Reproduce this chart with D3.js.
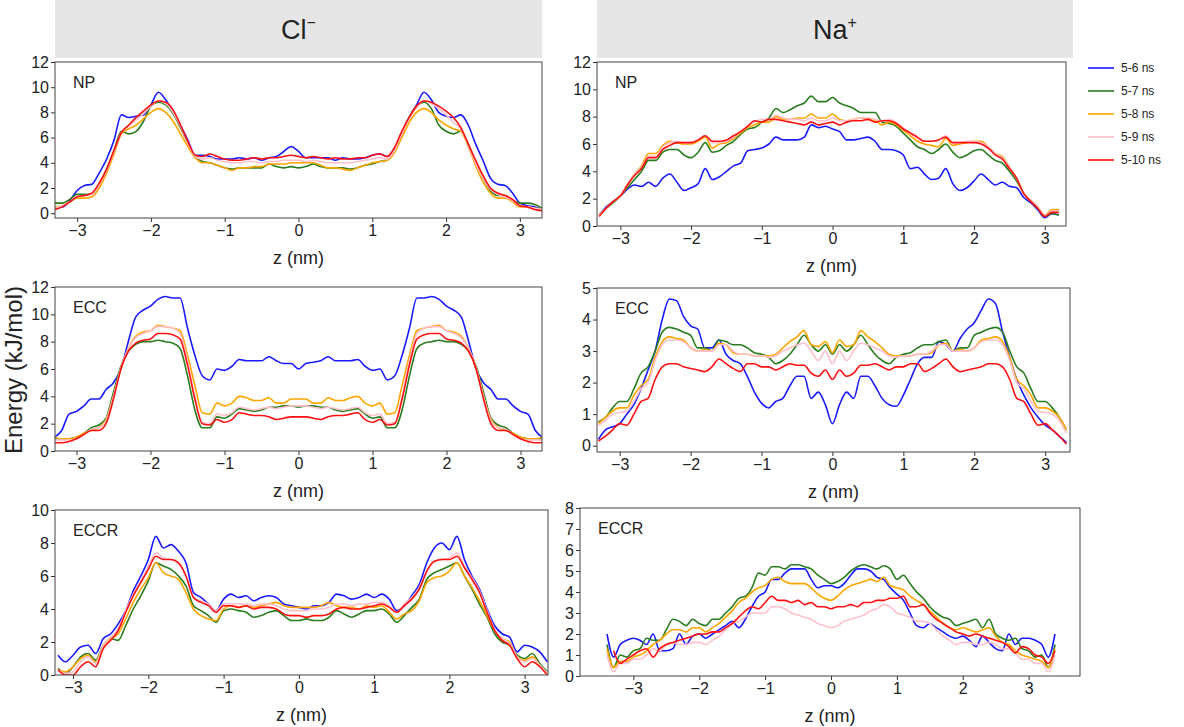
<!DOCTYPE html>
<html>
<head>
<script src="https://d3js.org/d3.v7.min.js"></script>
<style>
  body { margin: 0; background: #fff; font-family: "Liberation Sans", Arial, sans-serif; }
  .tick text { font-size: 16px; fill: #222; font-family: "Liberation Sans", Arial, sans-serif; }
  .domain { display: none; }
  .tick line { stroke: #333; }
</style>
</head>
<body>
<svg id="chart" width="1184" height="727"></svg>
<script>
// series labels and colours
const seriesNames = ['5-6 ns', '5-7 ns', '5-8 ns', '5-9 ns', '5-10 ns'];
const seriesColors = ['#1a1aff', '#2a7d1e', '#ffa500', '#ffc0cb', '#ff1010'];

// z grids (nm), sampled every 0.1 nm
const zA = d3.range(-33, 34).map(i => i / 10);   // -3.3 .. 3.3
const zB = d3.range(-33, 33).map(i => i / 10);   // -3.3 .. 3.2
const zC = d3.range(-32, 34).map(i => i / 10);   // -3.2 .. 3.3
const zD = d3.range(-34, 35).map(i => i / 10);   // -3.4 .. 3.4

// Cl- NP
const clNP_56 = [0.5,0.5,1.0,1.8,2.2,2.3,3.2,4.3,5.8,7.8, 7.6,7.7,7.8,8.6,9.6,9.0,8.0,7.0,5.8,4.6, 4.6,4.5,4.3,4.3,4.3,4.4,4.3,4.4,4.2,4.4, 4.5,4.9,5.3,4.9,4.4,4.4,4.4,4.4,4.2,4.4, 4.3,4.3,4.4,4.6,4.7,4.5,5.0,6.3,7.6,8.6, 9.6,9.0,8.0,7.7,7.6,7.8,7.0,5.5,4.2,2.8, 2.3,2.2,1.6,0.8,0.6,0.5,0.3];
const clNP_57 = [0.8,0.8,1.1,1.5,1.5,1.5,2.3,3.5,5.0,6.5, 6.3,6.5,7.3,8.5,8.8,8.6,7.9,6.8,5.6,4.5, 4.1,4.0,3.8,3.6,3.5,3.6,3.6,3.6,3.6,3.9, 3.7,3.6,3.7,3.6,3.7,3.9,3.7,3.6,3.6,3.6, 3.5,3.6,3.8,3.9,4.1,4.2,5.0,6.3,7.6,8.5, 8.8,8.3,7.0,6.5,6.3,6.5,5.5,4.0,2.8,1.8, 1.4,1.4,1.0,0.8,0.8,0.7,0.4];
const clNP_58 = [0.5,0.6,0.9,1.2,1.2,1.3,2.0,3.2,4.7,6.3, 6.7,7.0,7.5,8.0,8.3,8.0,7.3,6.3,5.3,4.4, 4.0,4.0,3.8,3.6,3.4,3.6,3.6,3.7,3.7,3.9, 3.9,3.9,4.0,4.0,4.0,4.0,3.8,3.6,3.6,3.5, 3.4,3.6,3.8,4.0,4.1,4.2,4.8,6.0,7.2,8.0, 8.3,8.0,7.4,7.0,6.7,6.5,5.3,3.8,2.5,1.6, 1.2,1.2,0.9,0.5,0.5,0.4,0.3];
const clNP_59 = [0.4,0.6,0.9,1.3,1.4,1.5,2.3,3.4,4.9,6.4, 6.9,7.4,7.9,8.5,8.9,8.7,8.0,6.9,5.6,4.5, 4.3,4.4,4.2,4.1,4.0,4.0,4.1,4.1,4.0,4.1, 4.1,4.2,4.2,4.2,4.1,4.2,4.1,4.0,4.0,4.0, 4.0,4.1,4.2,4.3,4.4,4.3,5.0,6.3,7.5,8.4, 8.9,8.7,8.3,7.8,7.2,6.7,5.4,4.0,2.8,1.9, 1.5,1.3,1.0,0.6,0.5,0.4,0.3];
const clNP_510 = [0.3,0.5,0.9,1.3,1.4,1.6,2.4,3.5,5.0,6.4, 7.0,7.6,8.1,8.6,8.9,8.8,8.2,7.0,5.7,4.6, 4.5,4.7,4.5,4.3,4.2,4.2,4.3,4.4,4.3,4.4, 4.4,4.5,4.6,4.5,4.4,4.5,4.4,4.3,4.4,4.3, 4.3,4.4,4.4,4.6,4.7,4.5,5.2,6.5,7.6,8.5, 8.9,8.8,8.5,8.1,7.6,6.8,5.5,4.2,3.0,2.0, 1.6,1.4,1.1,0.6,0.5,0.3,0.2];

// Na+ NP
const naNP_56 = [0.8,1.4,1.8,2.2,2.7,3.0,2.9,3.2,2.9,3.5, 3.8,3.2,2.6,2.8,3.1,4.2,3.4,3.6,4.0,4.4, 4.6,5.5,5.6,5.7,6.0,6.5,6.3,6.3,6.3,6.5, 7.4,7.2,7.3,7.1,6.9,6.3,6.3,6.4,6.5,6.2, 5.6,5.6,5.5,5.2,4.2,4.3,3.8,3.4,3.5,4.2, 3.1,2.6,2.8,3.3,3.8,3.4,3.0,3.2,2.9,2.8, 2.1,1.7,1.2,0.6,0.9,0.8];
const naNP_57 = [0.8,1.3,1.7,2.2,2.8,3.4,4.0,4.8,4.8,5.4, 5.6,5.6,5.2,5.0,5.4,6.1,5.4,5.5,5.9,6.2, 6.7,7.1,7.2,7.6,7.9,8.6,8.3,8.5,8.8,9.0, 9.5,9.1,9.1,9.4,9.0,8.8,8.6,8.3,8.3,8.3, 7.6,7.5,7.3,6.8,6.3,5.8,5.6,5.3,5.6,6.0, 5.4,5.0,5.2,5.5,5.6,5.2,4.8,4.6,4.0,3.3, 2.4,1.8,1.3,0.7,0.9,0.8];
const naNP_58 = [0.8,1.3,1.8,2.2,3.0,3.8,4.4,5.3,5.3,5.9, 6.2,6.1,6.0,6.0,6.2,6.5,5.7,6.0,6.1,6.4, 6.8,7.2,7.4,7.6,7.6,8.0,7.8,7.8,7.9,7.9, 8.2,7.9,7.9,8.2,7.8,7.7,7.8,7.9,7.8,7.7, 7.4,7.6,7.4,7.0,6.6,6.2,6.0,5.9,5.8,6.4, 5.9,6.0,6.1,6.2,6.2,5.8,5.3,5.1,4.3,3.5, 2.4,1.9,1.4,0.8,1.2,1.2];
const naNP_59 = [0.8,1.3,1.8,2.2,3.0,3.8,4.3,5.1,5.1,5.8, 6.1,6.2,6.1,6.1,6.3,6.6,6.1,6.1,6.2,6.5, 6.9,7.3,7.6,7.8,7.8,8.1,7.9,7.8,7.8,7.7, 7.9,7.7,7.7,7.9,7.7,7.7,7.8,7.9,7.9,7.8, 7.7,7.8,7.6,7.2,6.8,6.4,6.2,6.2,6.3,6.6, 6.1,6.1,6.2,6.2,6.1,5.8,5.3,5.0,4.3,3.5, 2.4,1.9,1.4,0.8,1.1,1.1];
const naNP_510 = [0.7,1.3,1.8,2.2,3.0,3.7,4.2,5.0,5.0,5.6, 5.9,6.1,6.1,6.1,6.3,6.6,6.2,6.2,6.3,6.6, 6.9,7.3,7.7,7.6,7.8,7.8,7.7,7.6,7.5,7.4, 7.6,7.4,7.5,7.6,7.4,7.6,7.7,7.7,7.8,7.6, 7.7,7.7,7.5,7.1,6.8,6.5,6.2,6.2,6.3,6.5, 6.1,6.1,6.1,6.1,6.0,5.7,5.2,4.9,4.2,3.5, 2.4,1.8,1.3,0.7,1.0,1.0];

// Cl- ECC
const clECC_56 = [1.0,1.5,2.7,2.9,3.3,3.8,3.8,4.5,5.0,6.0, 8.0,9.8,10.3,10.6,11.1,11.3,11.2,11.2,9.0,7.0, 5.5,5.2,6.0,5.9,6.2,6.7,6.6,6.6,6.6,6.9, 6.6,6.4,6.4,6.0,6.4,6.5,6.6,6.9,6.6,6.6, 6.6,6.7,6.2,5.9,6.0,5.2,5.5,7.0,9.0,11.2, 11.2,11.3,11.1,10.6,10.3,9.8,8.0,6.0,5.0,4.5, 3.8,3.8,3.3,2.9,2.7,1.5,1.0];
const clECC_57 = [0.9,0.9,0.9,1.0,1.3,1.7,1.9,2.4,4.3,6.2, 7.3,7.8,8.0,8.0,8.1,8.0,7.9,7.5,5.5,3.0, 1.7,1.7,2.5,2.4,2.7,3.1,3.0,2.9,3.0,3.2, 3.2,3.3,3.3,3.2,3.3,3.3,3.2,3.2,3.0,2.9, 3.0,3.1,2.7,2.4,2.5,1.7,1.7,3.0,5.5,7.5, 7.9,8.0,8.1,8.0,8.0,7.8,7.3,6.2,4.3,2.4, 1.9,1.7,1.3,1.0,0.9,0.9,0.9];
const clECC_58 = [1.0,0.9,0.9,1.0,1.3,1.5,1.7,2.3,4.0,6.0, 7.5,8.4,8.7,8.8,9.2,9.1,9.0,8.8,7.0,4.8, 2.8,2.7,3.5,3.3,3.5,4.0,3.9,3.7,3.7,3.9, 3.5,3.5,3.8,3.8,3.8,3.5,3.5,3.9,3.7,3.7, 3.9,4.0,3.5,3.3,3.5,2.7,2.8,4.8,7.0,8.8, 9.0,9.1,9.2,8.8,8.7,8.4,7.5,6.0,4.0,2.3, 1.7,1.5,1.3,1.0,0.9,0.9,1.0];
const clECC_59 = [0.8,0.8,0.8,0.9,1.2,1.6,1.7,2.2,4.0,6.1, 7.5,8.3,8.6,8.8,9.1,9.1,9.0,8.6,6.6,4.0, 2.1,2.0,2.7,2.6,2.8,3.2,3.1,3.0,3.1,3.2, 3.1,3.2,3.3,3.3,3.3,3.2,3.1,3.2,3.1,3.0, 3.1,3.2,2.8,2.6,2.7,2.0,2.1,4.0,6.6,8.6, 9.0,9.1,9.1,8.8,8.6,8.3,7.5,6.1,4.0,2.2, 1.7,1.6,1.2,0.9,0.8,0.8,0.8];
const clECC_510 = [0.6,0.6,0.7,0.9,1.2,1.5,1.5,2.0,3.8,6.0, 7.3,7.9,8.1,8.2,8.6,8.6,8.5,8.2,6.3,3.8, 2.0,1.9,2.3,2.1,2.3,2.8,2.7,2.6,2.6,2.5, 2.3,2.4,2.5,2.5,2.5,2.4,2.3,2.5,2.6,2.6, 2.7,2.8,2.3,2.1,2.3,1.9,2.0,3.8,6.3,8.2, 8.5,8.6,8.6,8.2,8.1,7.9,7.3,6.0,3.8,2.0, 1.5,1.5,1.2,0.9,0.7,0.6,0.6];

// Na+ ECC
const naECC_56 = [0.2,0.5,0.6,0.7,1.0,1.3,1.8,2.4,3.0,4.0, 4.65,4.6,4.1,3.8,3.7,3.1,3.1,3.35,2.9,2.7, 2.6,2.2,1.7,1.35,1.2,1.4,1.5,1.9,2.2,2.2, 1.5,1.7,1.3,0.7,1.3,1.7,1.5,2.2,2.2,1.9, 1.5,1.3,1.25,1.6,2.1,2.6,2.8,2.8,3.3,3.2, 3.0,3.4,3.7,3.9,4.3,4.65,4.5,3.6,2.8,2.1, 1.6,1.2,0.9,0.65,0.5,0.3,0.1];
const naECC_57 = [0.75,0.9,1.2,1.4,1.4,1.8,2.3,2.5,3.0,3.6, 3.75,3.7,3.6,3.5,3.1,3.1,3.0,3.35,3.3,3.2, 3.2,3.1,2.95,2.9,2.8,2.6,2.7,2.9,3.2,3.5, 3.2,3.0,3.2,2.9,3.2,3.0,3.2,3.5,3.2,2.9, 2.7,2.6,2.8,2.9,2.95,3.1,3.2,3.2,3.3,3.35, 3.0,3.1,3.1,3.5,3.6,3.7,3.75,3.6,3.0,2.5, 2.3,1.8,1.4,1.4,1.2,0.9,0.5];
const naECC_58 = [0.7,0.9,1.1,1.2,1.2,1.6,1.9,2.1,2.8,3.3, 3.45,3.4,3.35,3.1,3.0,3.05,3.0,3.25,3.2,2.95, 2.9,2.9,2.85,2.85,2.85,2.9,3.1,3.3,3.45,3.65, 3.2,3.15,3.3,2.95,3.35,3.15,3.2,3.65,3.45,3.3, 3.1,2.9,2.85,2.85,2.85,2.9,2.9,2.95,3.2,3.25, 3.0,3.05,3.0,3.1,3.35,3.4,3.45,3.3,2.8,2.1, 1.9,1.6,1.2,1.2,1.1,0.9,0.5];
const naECC_59 = [0.65,0.8,1.0,1.05,1.1,1.4,1.8,2.0,2.7,3.2, 3.35,3.35,3.3,3.1,3.0,3.0,3.0,3.2,3.2,3.0, 2.9,2.9,2.85,2.85,2.8,2.85,3.0,3.1,3.2,3.25, 3.0,2.7,3.0,2.6,3.0,2.7,3.0,3.25,3.2,3.1, 3.0,2.85,2.8,2.85,2.85,2.9,2.9,3.0,3.2,3.2, 3.0,3.0,3.0,3.1,3.3,3.35,3.35,3.2,2.7,2.0, 1.8,1.4,1.1,1.05,1.0,0.8,0.4];
const naECC_510 = [0.15,0.3,0.5,0.7,0.65,1.0,1.4,1.5,2.1,2.5, 2.6,2.6,2.5,2.45,2.4,2.35,2.5,2.75,2.6,2.45, 2.35,2.6,2.6,2.5,2.5,2.4,2.5,2.6,2.55,2.55, 2.3,2.2,2.4,2.1,2.4,2.2,2.3,2.55,2.55,2.6, 2.5,2.4,2.5,2.5,2.6,2.6,2.35,2.45,2.6,2.75, 2.5,2.35,2.4,2.45,2.5,2.6,2.6,2.5,2.1,1.5, 1.4,1.0,0.65,0.7,0.5,0.3,0.05];

// Cl- ECCR
const clECCR_56 = [1.2,0.8,1.2,1.7,1.8,1.3,2.2,2.5,3.1,3.9, 5.1,6.0,7.0,8.4,7.7,7.9,7.5,6.8,5.0,4.7, 4.3,3.9,4.6,4.9,4.7,4.8,4.5,4.7,4.8,4.7, 4.3,4.2,4.1,4.0,4.2,4.2,4.4,4.9,4.8,4.6, 4.7,4.9,4.7,4.9,4.6,3.9,4.2,4.8,5.5,6.8, 7.7,8.0,7.6,8.4,7.0,6.0,5.2,4.0,3.0,2.5, 2.3,1.4,1.8,1.7,1.4,0.8];
const clECCR_57 = [0.4,0.1,0.5,1.1,1.3,0.9,1.8,2.2,2.1,3.0, 4.0,4.8,5.7,6.8,6.6,6.4,6.0,5.4,4.2,3.9, 3.6,3.2,3.9,4.0,3.9,3.8,3.5,3.6,3.8,3.9, 3.6,3.3,3.3,3.4,3.3,3.3,3.5,3.9,3.7,3.5, 3.7,3.9,3.9,4.0,3.7,3.2,3.6,4.1,4.6,5.8, 6.2,6.4,6.6,6.8,6.0,5.2,4.3,3.5,2.5,2.0, 1.8,1.2,1.0,1.3,0.7,0.2];
const clECCR_58 = [0.3,0.2,0.5,1.0,1.2,0.8,1.8,2.2,2.5,3.4, 4.4,5.2,5.9,6.8,6.2,6.0,5.8,5.0,4.0,3.6, 3.4,3.3,4.0,4.2,4.1,4.2,4.1,4.2,4.3,4.4, 4.2,4.1,4.1,4.1,4.1,4.2,4.4,4.2,4.1,4.1, 4.0,4.2,4.1,4.2,3.8,3.4,3.7,3.9,4.5,5.6, 5.9,6.0,6.3,6.8,6.0,5.3,4.5,3.6,2.7,2.2, 2.0,1.1,0.9,1.1,0.6,0.1];
const clECCR_59 = [0.3,0.1,0.2,0.8,1.1,0.7,1.8,2.3,2.8,3.9, 4.9,5.7,6.6,7.4,7.1,7.0,6.8,6.0,4.7,4.5, 4.3,3.9,4.3,4.3,4.3,4.3,4.2,4.3,4.3,4.2, 4.0,3.9,3.9,3.9,4.0,4.0,4.1,4.3,4.3,4.2, 4.3,4.3,4.4,4.4,4.2,3.8,4.3,4.7,5.3,6.3, 6.9,7.0,7.1,7.4,6.6,5.9,5.1,3.9,2.8,2.2, 1.9,1.1,0.8,1.0,0.6,0.1];
const clECCR_510 = [0.3,0.0,0.0,0.5,0.8,0.5,1.6,2.1,2.7,3.8, 4.8,5.6,6.4,7.2,7.0,7.0,6.8,6.0,4.7,4.4, 4.2,3.8,4.2,4.2,4.1,4.2,4.0,4.1,4.1,4.0, 3.7,3.6,3.6,3.5,3.6,3.6,3.7,4.0,4.1,4.0, 4.0,4.1,4.2,4.3,4.1,3.8,4.2,4.6,5.2,6.3, 6.9,7.0,7.0,7.2,6.5,5.8,5.0,3.8,2.7,2.1, 1.8,1.0,0.5,0.8,0.5,0.0];

// Na+ ECCR
const naECCR_56 = [2.0,0.9,1.5,1.7,1.8,1.7,1.5,2.0,1.2,1.2, 1.3,2.0,1.5,1.9,2.0,1.8,2.0,2.2,2.4,2.6, 2.3,2.7,3.3,3.8,4.0,4.6,4.6,4.9,5.1,5.1, 5.1,4.6,4.2,4.3,4.3,4.2,4.4,4.8,5.1,5.1, 5.0,4.7,4.6,4.2,3.9,3.6,3.0,2.4,2.3,2.5, 2.3,2.1,1.9,1.8,1.9,1.7,1.4,1.9,1.6,1.3, 1.2,2.0,1.5,1.8,1.8,1.7,1.5,0.9,2.0];
const naECCR_57 = [1.5,0.4,1.0,0.9,1.2,1.3,1.8,1.7,1.7,2.2, 2.7,2.6,2.4,2.7,2.5,2.4,2.7,2.7,3.0,3.3, 3.7,3.8,4.2,4.9,4.8,5.2,5.2,5.1,5.3,5.3, 5.2,5.1,4.8,4.6,4.4,4.5,4.7,5.0,5.2,5.3, 5.2,5.1,5.25,5.1,4.6,4.8,4.4,4.0,3.7,3.3, 3.0,2.8,2.7,2.4,2.5,2.6,2.7,2.3,2.7,2.0, 1.8,1.7,1.8,1.3,1.2,0.9,1.0,0.4,1.5];
const naECCR_58 = [1.3,0.4,0.7,0.7,0.9,1.0,1.2,1.5,1.7,2.0, 2.2,2.2,2.1,2.3,2.3,2.1,2.3,2.5,2.8,3.1, 3.5,3.7,4.0,4.2,4.3,4.6,4.7,4.5,4.4,4.4, 4.4,4.2,3.9,3.7,3.6,3.8,4.1,4.3,4.4,4.5, 4.6,4.5,4.7,4.3,4.2,4.1,3.8,3.6,3.4,3.1, 2.8,2.5,2.3,2.2,2.3,2.2,2.1,2.2,2.3,1.9, 1.6,1.5,1.2,1.0,0.9,0.8,0.7,0.4,1.3];
const naECCR_59 = [1.0,0.2,0.6,0.6,0.8,0.8,1.0,1.3,1.2,1.5, 1.6,1.5,1.5,1.6,1.6,1.5,1.7,1.9,2.2,2.5, 2.6,2.8,3.0,3.0,3.0,3.3,3.3,3.2,3.0,2.9, 2.8,2.7,2.5,2.4,2.3,2.4,2.6,2.7,2.8,2.9, 3.1,3.2,3.4,3.3,3.0,2.9,2.8,2.6,2.6,2.5, 2.2,1.9,1.7,1.5,1.6,1.6,1.5,1.5,1.6,1.5, 1.3,1.3,1.1,0.8,0.8,0.6,0.6,0.2,1.0];
const naECCR_510 = [null,1.2,0.6,0.8,1.0,1.2,1.3,0.9,1.3,1.5, 1.6,1.7,1.8,1.9,2.0,2.0,2.1,2.1,2.3,2.5, 2.8,3.1,3.3,3.2,3.5,3.8,3.6,3.6,3.5,3.6, 3.4,3.5,3.3,3.3,3.2,3.3,3.3,3.4,3.3,3.5, 3.5,3.6,3.6,3.7,3.7,3.8,3.3,3.3,3.4,3.0, 2.7,2.5,2.3,2.1,2.0,1.9,2.0,1.9,1.8,1.7, 1.6,1.4,1.1,1.4,1.3,1.0,0.9,0.6,1.2];

const xTicks = [-3, -2, -1, 0, 1, 2, 3];

const panels = [
  { label: 'NP',   z: zA, left: 55,  right: 542,  top: 62,  bottom: 218, xDom: [-3.3, 3.3],  yDom: [-0.38, 12], yTicks: [0,2,4,6,8,10,12], series: [clNP_56, clNP_57, clNP_58, clNP_59, clNP_510] },
  { label: 'NP',   z: zB, left: 597, right: 1066, top: 62,  bottom: 226, xDom: [-3.33, 3.3], yDom: [0, 12],     yTicks: [0,2,4,6,8,10,12], series: [naNP_56, naNP_57, naNP_58, naNP_59, naNP_510] },
  { label: 'ECC',  z: zA, left: 55,  right: 542,  top: 287, bottom: 451, xDom: [-3.29, 3.29], yDom: [0, 12],    yTicks: [0,2,4,6,8,10,12], series: [clECC_56, clECC_57, clECC_58, clECC_59, clECC_510] },
  { label: 'ECC',  z: zA, left: 597, right: 1070, top: 288, bottom: 452, xDom: [-3.32, 3.35], yDom: [-0.2, 5],  yTicks: [0,1,2,3,4,5], series: [naECC_56, naECC_57, naECC_58, naECC_59, naECC_510] },
  { label: 'ECCR', z: zC, left: 55,  right: 548,  top: 510, bottom: 675, xDom: [-3.24, 3.31], yDom: [0, 10],    yTicks: [0,2,4,6,8,10], series: [clECCR_56, clECCR_57, clECCR_58, clECCR_59, clECCR_510] },
  { label: 'ECCR', z: zD, left: 580, right: 1080, top: 508, bottom: 676, xDom: [-3.81, 3.78], yDom: [0, 8],     yTicks: [0,1,2,3,4,5,6,7,8], series: [naECCR_56, naECCR_57, naECCR_58, naECCR_59, naECCR_510] }
];

const svg = d3.select('#chart');

// column headers
const headers = [
  { base: 'Cl', sup: '−', left: 55, right: 542 },
  { base: 'Na', sup: '+', left: 597, right: 1073 }
];
headers.forEach(h => {
  svg.append('rect')
    .attr('x', h.left).attr('y', 0)
    .attr('width', h.right - h.left).attr('height', 58)
    .attr('fill', '#e6e6e6');
  const t = svg.append('text')
    .attr('x', (h.left + h.right) / 2).attr('y', 39)
    .attr('text-anchor', 'middle')
    .attr('font-size', 27).attr('fill', '#222');
  t.append('tspan').text(h.base);
  t.append('tspan').attr('font-size', 16).attr('dy', -11).text(h.sup);
});

panels.forEach(p => {
  const x = d3.scaleLinear().domain(p.xDom).range([p.left, p.right]);
  const y = d3.scaleLinear().domain(p.yDom).range([p.bottom, p.top]);

  svg.append('g')
    .attr('transform', `translate(0,${p.bottom})`)
    .call(d3.axisBottom(x).tickValues(xTicks).tickSize(4).tickPadding(3).tickFormat(d3.format('d')));
  svg.append('g')
    .attr('transform', `translate(${p.left},0)`)
    .call(d3.axisLeft(y).tickValues(p.yTicks).tickSize(4).tickPadding(2).tickFormat(d3.format('d')));

  const clipId = 'clip' + p.left + '_' + p.top;
  svg.append('clipPath').attr('id', clipId)
    .append('rect').attr('x', p.left).attr('y', p.top)
    .attr('width', p.right - p.left).attr('height', p.bottom - p.top);

  const line = d3.line()
    .defined(d => d[1] != null)
    .x(d => x(d[0])).y(d => y(d[1]))
    .curve(d3.curveMonotoneX);

  const g = svg.append('g').attr('clip-path', `url(#${clipId})`);
  p.series.forEach((vals, i) => {
    const pts = p.z.slice(0, vals.length).map((z, j) => [z, vals[j]]);
    g.append('path')
      .datum(pts)
      .attr('fill', 'none')
      .attr('stroke', seriesColors[i])
      .attr('stroke-width', 1.6)
      .attr('d', line);
  });

  svg.append('rect')
    .attr('x', p.left).attr('y', p.top)
    .attr('width', p.right - p.left).attr('height', p.bottom - p.top)
    .attr('fill', 'none').attr('stroke', '#444').attr('stroke-width', 1);

  svg.append('text')
    .attr('x', p.left + 18).attr('y', p.top + 26)
    .attr('font-size', 16).attr('fill', '#222')
    .text(p.label);

  svg.append('text')
    .attr('x', (p.left + p.right) / 2).attr('y', p.bottom + 46)
    .attr('text-anchor', 'middle')
    .attr('font-size', 18).attr('fill', '#222')
    .text('z (nm)');
});

// shared y label
svg.append('text')
  .attr('transform', 'translate(22,370) rotate(-90)')
  .attr('text-anchor', 'middle')
  .attr('font-size', 24).attr('fill', '#222')
  .text('Energy (kJ/mol)');

// legend
const legend = svg.append('g').attr('transform', 'translate(1088,68)');
seriesNames.forEach((name, i) => {
  legend.append('line')
    .attr('x1', 0).attr('x2', 26)
    .attr('y1', i * 23).attr('y2', i * 23)
    .attr('stroke', seriesColors[i]).attr('stroke-width', 1.6);
  legend.append('text')
    .attr('x', 33).attr('y', i * 23 + 4)
    .attr('font-size', 12).attr('fill', '#222')
    .text(name);
});
</script>
</body>
</html>
